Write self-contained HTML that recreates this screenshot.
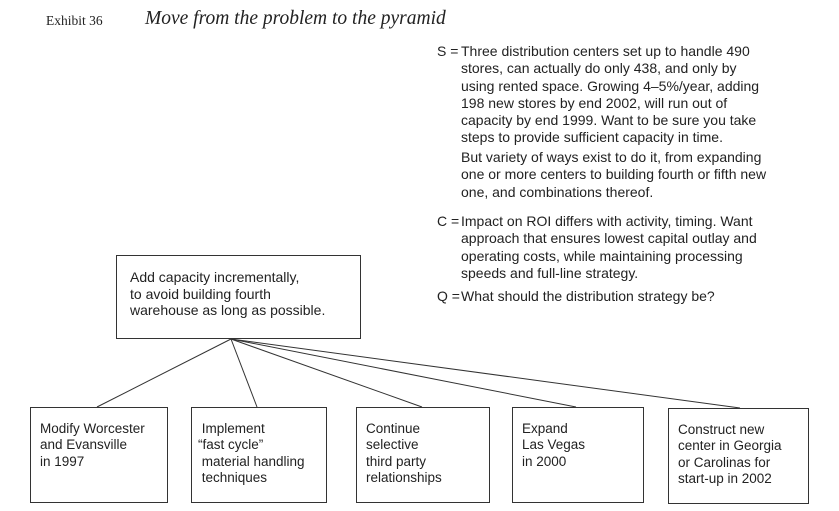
<!DOCTYPE html>
<html><head><style>
body{margin:0;width:839px;height:511px;background:#fff;position:relative;overflow:hidden;font-family:"Liberation Sans",sans-serif;color:#222}
.a{position:absolute;white-space:nowrap}
.t{font-size:14px;line-height:17.3px}
.box{position:absolute;border:1px solid #333;box-sizing:border-box;font-size:13.5px;line-height:16.3px;padding:13px 0 0 9px;white-space:nowrap}
</style></head><body>
<div class="a" style="left:46px;top:13px;font-family:'Liberation Serif',serif;font-size:13.5px">Exhibit 36</div>
<div class="a" style="left:145px;top:8px;font-family:'Liberation Serif',serif;font-style:italic;font-size:19.5px">Move from the problem to the pyramid</div>
<div class="a t" style="left:437px;top:43px">S =</div>
<div class="a t" style="left:461px;top:43px">Three distribution centers set up to handle 490<br>stores, can actually do only 438, and only by<br>using rented space. Growing 4–5%/year, adding<br>198 new stores by end 2002, will run out of<br>capacity by end 1999. Want to be sure you take<br>steps to provide sufficient capacity in time.</div>
<div class="a t" style="left:461px;top:149px">But variety of ways exist to do it, from expanding<br>one or more centers to building fourth or fifth new<br>one, and combinations thereof.</div>
<div class="a t" style="left:437px;top:213px">C =</div>
<div class="a t" style="left:461px;top:213px">Impact on ROI differs with activity, timing. Want<br>approach that ensures lowest capital outlay and<br>operating costs, while maintaining processing<br>speeds and full-line strategy.</div>
<div class="a t" style="left:437px;top:288px">Q =</div>
<div class="a t" style="left:461px;top:288px">What should the distribution strategy be?</div>
<div class="box" style="left:116px;top:255px;width:245px;height:84px;padding:13px 0 0 13px;font-size:14px;line-height:16.5px">Add capacity incrementally,<br>to avoid building fourth<br>warehouse as long as possible.</div>
<svg style="position:absolute;left:0;top:0" width="839" height="511"><g stroke="#333" stroke-width="1" fill="none">
<line x1="231" y1="339" x2="97" y2="407"/><line x1="231" y1="339" x2="257" y2="407"/><line x1="231" y1="339" x2="422" y2="407"/><line x1="231" y1="339" x2="576" y2="407"/><line x1="231" y1="339" x2="740" y2="408"/></g></svg>
<div class="box" style="left:30px;top:407px;width:138px;height:96px">Modify Worcester<br>and Evansville<br>in 1997</div>
<div class="box" style="left:191px;top:407px;width:136px;height:96px;padding-left:6px">&nbsp;Implement<br>“fast cycle”<br>&nbsp;material handling<br>&nbsp;techniques</div>
<div class="box" style="left:356px;top:407px;width:134px;height:96px">Continue<br>selective<br>third party<br>relationships</div>
<div class="box" style="left:512px;top:407px;width:132px;height:96px">Expand<br>Las Vegas<br>in 2000</div>
<div class="box" style="left:668px;top:408px;width:141px;height:96px">Construct new<br>center in Georgia<br>or Carolinas for<br>start-up in 2002</div>
</body></html>
